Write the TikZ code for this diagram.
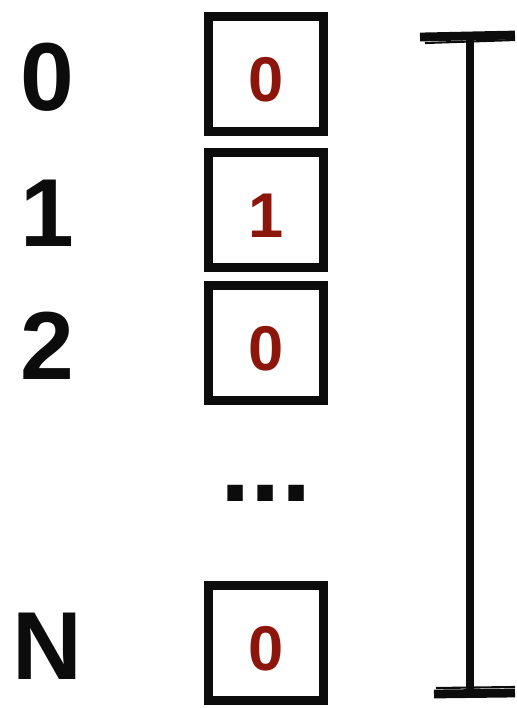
\documentclass[tikz,border=0pt]{standalone}
\usepackage{fontspec}
\setmainfont{Liberation Sans}
\usepackage{tikz}
\usepackage{xcolor}
\usetikzlibrary{positioning, calc}
\definecolor{cInk}{RGB}{12,12,12}
\definecolor{cBit}{RGB}{140,22,12}
\tikzset{
	idx/.style   ={font=\fontsize{55}{60}\selectfont\bfseries, text=cInk, inner sep=0pt},
	bitbox/.style={rectangle, draw=cInk, line width=4.6pt, minimum size=2.3cm, inner sep=0pt,
		font=\fontsize{36}{40}\selectfont\bfseries, text=cBit, text height=1.08cm, text depth=0cm,
		postaction={draw=cInk, line width=1pt, transform canvas={shift={(1.5pt,-2pt)}}},
		postaction={draw=cInk, line width=0.8pt, transform canvas={shift={(-1.8pt,1.5pt)}}}},
	% brush-like bracket
	brush/.style ={draw=cInk, line width=4.4pt, line cap=round},
	capstroke/.style={draw=cInk, line width=5pt},
}
\begin{document}
\begin{tikzpicture}[x=0.02cm, y=-0.02cm]
	\useasboundingbox (0,0) rectangle (517,708);
	\foreach \n/\v/\y in {0/0/74, 1/1/210, 2/0/343, N/0/643} {
		\node[bitbox] (box\n) at (266,\y) {\v};
		\node[idx] (lbl\n) at (47,\y+3) {\n};
	}
	\node[idx, font=\fontsize{62}{60}\selectfont\bfseries] (dots) at (266,493) {...};
	% bracket on the right
	\coordinate (brtop) at (470,38);
	\coordinate (brbot) at (470,693);
	\coordinate (captl) at (420,37);
	\coordinate (captr) at (515,35);
	\coordinate (capbl) at (434,694);
	\coordinate (capbr) at (515,693);
	\draw[brush] (brtop) -- (brbot);
	\draw[capstroke] (captl) -- (captr);
	\draw[capstroke, line width=1.2pt] ($(captl)+(5,6)$) -- ($(captr)+(0,5)$);
	\draw[capstroke] (capbl) -- (capbr);
	\draw[capstroke, line width=1.2pt] ($(capbl)+(2,-6)$) -- ($(capbr)+(0,-6)$);
\end{tikzpicture}
\end{document}
